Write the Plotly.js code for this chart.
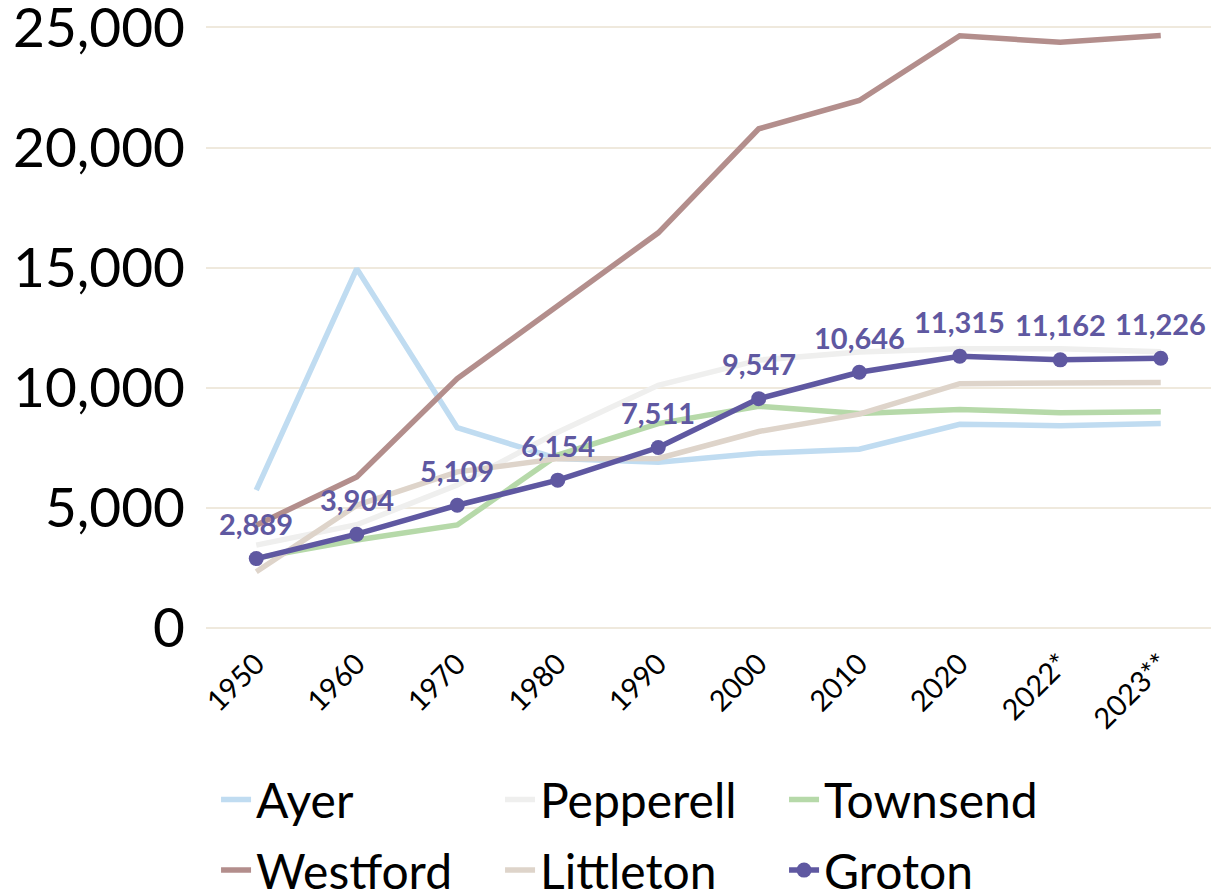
<!DOCTYPE html>
<html>
<head>
<meta charset="utf-8">
<script src="https://cdn.plot.ly/plotly-3.0.1.min.js"></script>
<style>
html,body{margin:0;padding:0;background:#fff;}
#chart{width:1211px;height:896px;}
</style>
</head>
<body>
<div id="chart"></div>
<script>
const categories = ["1950","1960","1970","1980","1990","2000","2010","2020","2022*","2023**"];
const ayer      = [5740, 14960, 8340, 7050, 6900, 7270, 7440, 8480, 8420, 8510];
const pepperell = [3450, 4300, 5950, 8150, 10100, 11150, 11490, 11620, 11620, 11500];
const townsend  = [2910, 3660, 4290, 7200, 8510, 9230, 8930, 9100, 8960, 9000];
const westford  = [4280, 6290, 10380, 13430, 16450, 20780, 21960, 24650, 24380, 24660];
const littleton = [2340, 5110, 6500, 7050, 7060, 8180, 8900, 10170, 10200, 10220];
const groton    = [2889, 3904, 5109, 6154, 7511, 9547, 10646, 11315, 11162, 11226];
const yTicks    = [0, 5000, 10000, 15000, 20000, 25000];

const names   = ["Ayer","Pepperell","Townsend","Westford","Littleton","Groton"];
const series  = [ayer, pepperell, townsend, westford, littleton, groton];
const colors  = ["#c0dcf1","#efefee","#b6d9a9","#b38e8c","#ded4ca","#5f58a1"];
const legRows = ["legend","legend","legend","legend2","legend2","legend2"];

const traces = series.map((vals, i) => {
  const isG = names[i] === "Groton";
  const t = {
    type: "scatter",
    mode: isG ? "lines+markers" : "lines",
    name: names[i],
    x: categories,
    y: vals,
    line: {color: colors[i], width: 5.5},
    legend: legRows[i],
    hoverinfo: "skip"
  };
  if (isG) t.marker = {color: colors[i], size: 15};
  return t;
});

const annotations = groton.map((v, i) => ({
  x: i, y: v, xref: "x", yref: "y",
  text: v.toLocaleString("en-US"),
  showarrow: false, yshift: 35,
  font: {family: "Lato", size: 29, color: "#5f58a1", weight: "bold"}
}));

const legendBase = {
  orientation: "h",
  x: 0.01, xanchor: "left",
  yanchor: "middle",
  entrywidth: 239, entrywidthmode: "pixels",
  font: {family: "Lato", size: 48, color: "#000"},
  itemwidth: 30,
  bgcolor: "rgba(0,0,0,0)"
};

const layout = {
  width: 1211, height: 896,
  margin: {l: 206, r: 0, t: 25, b: 268, autoexpand: false},
  paper_bgcolor: "#ffffff",
  plot_bgcolor: "#ffffff",
  font: {family: "Lato", color: "#000"},
  showlegend: true,
  xaxis: {
    type: "category",
    tickangle: -45,
    tickfont: {family: "Lato", size: 29, color: "#000"},
    showgrid: false, showline: false, zeroline: false,
    ticks: "", range: [-0.5, 9.5], ticklabelstandoff: 12
  },
  yaxis: {
    range: [0, 25100],
    tickvals: yTicks,
    tickformat: ",d",
    tickfont: {family: "Lato", size: 55, color: "#000"},
    ticklabeloverflow: "allow",
    gridcolor: "#efe9dd", gridwidth: 2,
    zeroline: true, zerolinecolor: "#efe9dd", zerolinewidth: 2,
    showline: false, ticks: "", ticklabelstandoff: 20
  },
  legend: Object.assign({}, legendBase, {y: -0.285}),
  legend2: Object.assign({}, legendBase, {y: -0.402}),
  annotations: annotations
};

Plotly.newPlot("chart", traces, layout, {displayModeBar: false, staticPlot: true});
</script>
</body>
</html>
